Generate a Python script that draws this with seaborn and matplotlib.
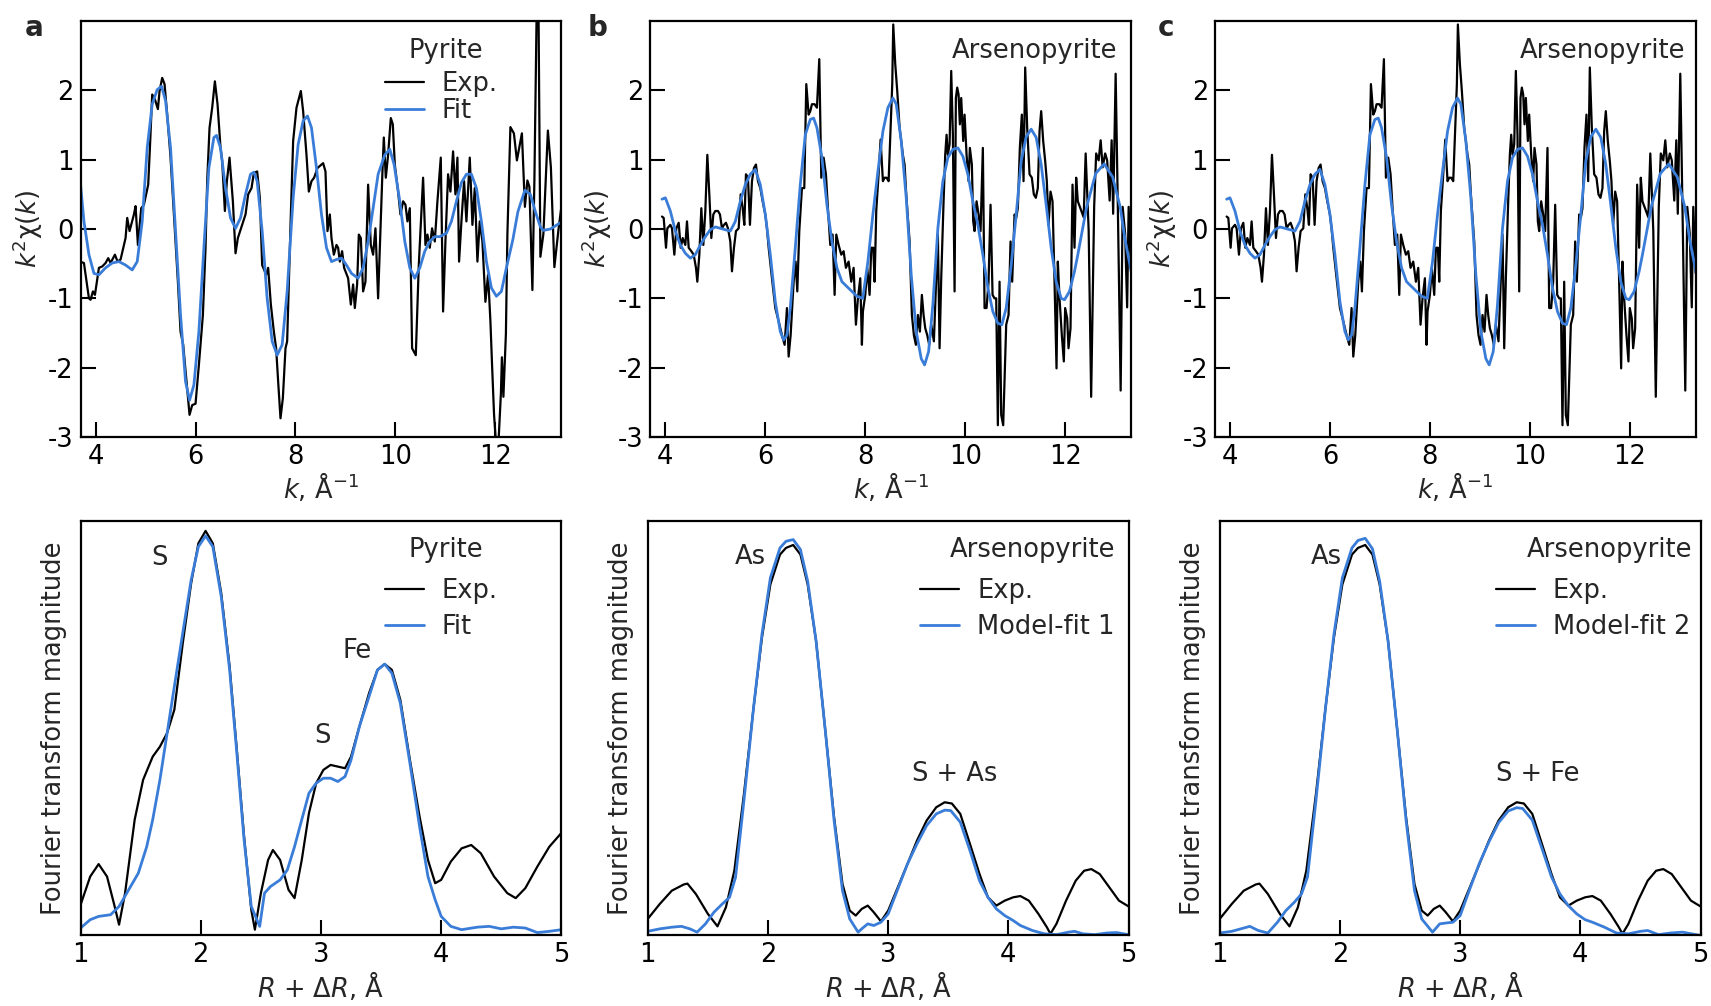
import matplotlib
matplotlib.use("Agg")
import matplotlib.pyplot as plt
import seaborn as sns

# ---- k-space data, panel a (pyrite) ----
k_a_exp = [3.68, 3.767, 3.867, 3.90, 3.947, 3.987, 4.067, 4.133, 4.20, 4.253, 4.30, 4.387, 4.44, 4.50,
           4.567, 4.60, 4.633, 4.68, 4.767, 4.80, 4.847, 4.913, 4.967, 5.053, 5.087, 5.133, 5.187, 5.247,
           5.28, 5.333, 5.38, 5.433, 5.50, 5.567, 5.647, 5.70, 5.753, 5.82, 5.88, 5.933, 6.00, 6.067,
           6.147, 6.20, 6.233, 6.28, 6.333, 6.387, 6.44, 6.50, 6.533, 6.587, 6.627, 6.68, 6.747, 6.80,
           6.847, 6.933, 7.00, 7.053, 7.12, 7.167, 7.233, 7.287, 7.333, 7.413, 7.453, 7.507, 7.567,
           7.613, 7.653, 7.70, 7.747, 7.80, 7.833, 7.907, 7.953, 8.02, 8.107, 8.153, 8.22, 8.267, 8.32,
           8.373, 8.44, 8.553, 8.60, 8.64, 8.687, 8.72, 8.767, 8.82, 8.853, 8.887, 8.933, 8.973, 9.053,
           9.107, 9.153, 9.187, 9.233, 9.267, 9.307, 9.353, 9.40, 9.453, 9.507, 9.553, 9.60, 9.653,
           9.687, 9.74, 9.767, 9.807, 9.853, 9.907, 9.947, 9.987, 10.053, 10.10, 10.153, 10.20, 10.24,
           10.287, 10.333, 10.407, 10.467, 10.553, 10.60, 10.64, 10.687, 10.733, 10.787, 10.84, 10.907,
           10.953, 11.00, 11.053, 11.10, 11.153, 11.20, 11.24, 11.273, 11.32, 11.373, 11.42, 11.487,
           11.54, 11.587, 11.64, 11.687, 11.74, 11.80, 11.853, 11.90, 11.933, 11.973, 12.02, 12.06,
           12.11, 12.13, 12.16, 12.21, 12.24, 12.30, 12.37, 12.43, 12.53, 12.59, 12.64, 12.68, 12.74,
           12.78, 12.83, 12.86, 12.90, 12.96, 13.05, 13.11, 13.18, 13.26, 13.32]
chi_a_exp = [-0.47, -0.49, -1.00, -1.02, -0.90, -0.95, -0.56, -0.54, -0.49, -0.42, -0.49, -0.37, -0.47, -0.44,
             -0.23, -0.13, 0.16, -0.03, 0.21, 0.33, -0.23, 0.30, 0.35, 0.64, 1.17, 1.94, 1.87, 1.73,
             1.99, 2.18, 2.09, 1.65, 1.03, 0.21, -0.76, -1.48, -1.67, -2.20, -2.68, -2.54, -2.52, -1.96,
             -1.24, -0.27, 0.69, 1.46, 1.75, 2.13, 1.80, 1.17, 0.98, 0.26, 0.69, 1.03, 0.40, -0.35,
             -0.13, 0.06, 0.21, 0.50, 0.59, 0.81, 0.83, 0.45, -0.52, -0.66, -0.56, -1.09, -1.48,
             -1.72, -2.20, -2.73, -2.44, -1.72, -1.62, 0.21, 1.27, 1.75, 1.99, 1.70, 1.07, 0.54, 0.69,
             0.74, 0.88, 0.95, 0.83, -0.03, 0.21, -0.13, -0.37, -0.23, -0.27, -0.47, -0.32, -0.56, -0.71,
             -1.09, -0.80, -1.14, -0.80, -0.08, -0.13, -0.90, -0.76, 0.64, -0.23, -0.37, 0.01, -1.00,
             -0.27, 0.83, 1.32, 0.74, 1.07, 1.60, 1.51, 0.93, 0.54, 0.21, 0.40, 0.35, 0.11,
             0.30, -1.72, -1.82, -0.52, 0.74, -0.23, -0.08, -0.27, 0.01, -0.18, 0.40, 1.03,
             -1.19, -0.18, 0.79, 0.54, 1.12, 0.50, 1.03, -0.47, 0.11, 0.69, 0.11, 1.03,
             0.06, 0.59, -0.47, 0.11, -0.18, -1.05, -0.66, -1.33, -1.96, -2.68, -3.17, -3.10,
             -2.37, -1.85, -2.42, -1.51, -0.07, 1.47, 1.38, 0.99, 1.38, 0.32, 0.70, 0.61, -0.88,
             0.70, 3.40, 3.40, -0.40, -0.07, 1.42, 0.89, -0.55, -0.02, 0.32]

k_a_fit = [3.68, 3.767, 3.867, 3.967, 4.067, 4.20, 4.333, 4.467, 4.60, 4.733, 4.833, 4.933, 5.033, 5.133,
           5.233, 5.32, 5.40, 5.50, 5.60, 5.70, 5.80, 5.88, 5.967, 6.067, 6.167, 6.267, 6.367, 6.42,
           6.50, 6.60, 6.70, 6.80, 6.90, 7.00, 7.10, 7.167, 7.233, 7.333, 7.433, 7.533, 7.633, 7.733,
           7.833, 7.953, 8.053, 8.153, 8.24, 8.32, 8.42, 8.52, 8.62, 8.72, 8.82, 8.92, 9.02, 9.12,
           9.253, 9.353, 9.453, 9.553, 9.653, 9.787, 9.887, 9.973, 10.087, 10.187, 10.287, 10.387,
           10.487, 10.587, 10.687, 10.787, 10.887, 11.02, 11.12, 11.22, 11.32, 11.42, 11.52, 11.62,
           11.72, 11.82, 11.92, 12.02, 12.12, 12.22, 12.35, 12.45, 12.59, 12.70, 12.80, 12.90, 12.96,
           13.10, 13.32]
chi_a_fit = [0.79, 0.11, -0.37, -0.64, -0.66, -0.56, -0.49, -0.47, -0.52, -0.59, -0.47, 0.11, 1.17, 1.80,
             2.01, 2.06, 1.85, 1.17, -0.03, -1.24, -2.20, -2.47, -2.25, -1.48, -0.27, 0.88, 1.32, 1.35,
             1.17, 0.59, 0.16, 0.01, 0.16, 0.50, 0.79, 0.82, 0.69, -0.03, -1.00, -1.62, -1.82, -1.67,
             -0.90, 0.45, 1.22, 1.56, 1.63, 1.46, 0.88, 0.21, -0.27, -0.47, -0.44, -0.42, -0.52, -0.64,
             -0.71, -0.56, -0.18, 0.30, 0.79, 1.07, 1.15, 0.93, 0.40, -0.18, -0.56, -0.71,
             -0.56, -0.32, -0.18, -0.11, -0.11, -0.06, 0.11, 0.40, 0.67, 0.79, 0.79, 0.59,
             0.11, -0.47, -0.85, -0.97, -0.90, -0.56, -0.15, 0.25, 0.56, 0.50, 0.25, 0.03, -0.02,
             0.00, 0.10]

# ---- k-space data, panels b and c (arsenopyrite) ----
k_b_exp = [3.933, 3.967, 4.013, 4.04, 4.10, 4.133, 4.18, 4.22, 4.267, 4.307, 4.347, 4.40, 4.433, 4.467,
           4.52, 4.567, 4.613, 4.64, 4.68, 4.72, 4.76, 4.80, 4.84, 4.88, 4.92, 4.96, 5.00, 5.053, 5.093,
           5.133, 5.173, 5.213, 5.253, 5.30, 5.333, 5.373, 5.413, 5.467, 5.507, 5.547, 5.58, 5.613,
           5.653, 5.693, 5.733, 5.773, 5.813, 5.853, 5.90, 5.947, 6.00, 6.033, 6.067, 6.133, 6.20,
           6.267, 6.333, 6.387, 6.433, 6.467, 6.507, 6.567, 6.607, 6.64, 6.68, 6.733, 6.78, 6.82,
           6.867, 6.90, 6.933, 6.987, 7.033, 7.08, 7.12, 7.167, 7.213, 7.253, 7.30, 7.347, 7.387,
           7.42, 7.467, 7.52, 7.567, 7.613, 7.667, 7.72, 7.767, 7.813, 7.853, 7.90, 7.933, 7.953,
           8.00, 8.04, 8.087, 8.12, 8.16, 8.187, 8.22, 8.267, 8.307, 8.353, 8.387, 8.427, 8.467,
           8.50, 8.54, 8.56, 8.60, 8.64, 8.687, 8.753, 8.787, 8.82, 8.887, 8.933, 8.973, 9.013,
           9.053, 9.093, 9.133, 9.167, 9.20, 9.24, 9.28, 9.32, 9.373, 9.413, 9.453, 9.487, 9.52,
           9.567, 9.60, 9.627, 9.653, 9.687, 9.72, 9.753, 9.787, 9.813, 9.84, 9.867, 9.893, 9.92,
           9.96, 9.987, 10.027, 10.067, 10.093, 10.133, 10.16, 10.187, 10.227, 10.267, 10.307,
           10.353, 10.387, 10.427, 10.467, 10.507, 10.547, 10.587, 10.62, 10.653, 10.687, 10.72,
           10.76, 10.787, 10.82, 10.867, 10.907, 10.94, 10.987, 11.02, 11.053, 11.093, 11.133,
           11.167, 11.20, 11.24, 11.287, 11.333, 11.373, 11.413, 11.453, 11.487, 11.52, 11.56,
           11.60, 11.633, 11.667, 11.707, 11.747, 11.787, 11.827, 11.853, 11.887, 11.933, 11.973,
           12.00, 12.04, 12.067, 12.107, 12.147, 12.187, 12.22, 12.253, 12.37, 12.41, 12.47, 12.52,
           12.58, 12.62, 12.67, 12.71, 12.75, 12.80, 12.84, 12.89, 12.93, 12.96, 13.01, 13.06,
           13.11, 13.15, 13.20, 13.24, 13.27, 13.32]
chi_b_exp = [0.18, 0.16, -0.27, 0.01, 0.06, 0.01, -0.37, 0.01, 0.09, -0.27, -0.13, -0.23, 0.11, -0.27,
             -0.32, -0.37, -0.56, -0.76, -0.37, 0.30, -0.23, 0.26, 1.07, 0.50, -0.13, 0.21, 0.26, 0.26, 0.21,
             0.01, 0.06, 0.09, 0.01, -0.18, -0.61, -0.27, -0.03, 0.01, 0.50, 0.30, 0.06, 0.79,
             0.74, 0.06, 0.69, 0.88, 0.93, 0.69, 0.59, 0.40, 0.21, 0.01, -0.27, -0.71, -1.14,
             -1.33, -1.53, -1.67, -1.14, -1.84, -1.53, -0.76, -0.47, -0.90, -0.03, 0.59, 0.59, 2.09,
             1.65, 1.70, 1.80, 1.80, 1.75, 2.45, 0.74, 1.03, 0.79, 0.30, -0.23, -0.08, -0.95,
             -0.08, -0.23, -0.37, -0.32, -0.56, -0.47, -0.76, -0.56, -1.38, -1.00, -0.71, -1.67, -1.19,
             -0.95, -0.56, -0.95, -0.27, -0.27, -0.76, 0.26, 0.79, 1.29, 0.69, 0.74, 0.74, 0.69,
             1.32, 2.09, 2.95, 2.38, 1.99, 1.46, 1.07, 0.93, 0.50, -0.18, -1.24, -1.53, -1.67,
             -1.24, -1.48, -0.95, -1.24, -1.43, -1.53, -1.67, -1.38, -1.62, -0.85, -0.08, -1.72, -0.71,
             0.40, 1.07, 1.36, 1.07, 1.22, 2.28, 1.36, -0.90, 1.89, 2.04, 1.94, 1.51, 1.89,
             1.27, 1.65, 1.07, 0.69, 1.17, 0.93, 0.11, -0.03, 0.40, 0.21, -0.03,
             1.17, -1.14, -1.14, -0.76, 0.35, -0.95, -1.00, -1.00, -2.83, -0.76, -2.68,
             -2.83, -2.20, -1.38, -1.24, -0.18, -0.76, 0.21, 0.16, 0.30, 1.17, 1.65,
             0.69, 2.33, 1.46, 0.79, 0.74, 0.50, 0.45, 0.59, 1.41, 1.70, 1.27,
             0.98, 0.69, 0.06, 0.54, 0.40, -0.76, -2.01, -0.47, -1.00, -1.53, -1.91,
             -1.14, -1.29, -1.72, -1.43, 0.64, -0.27, 0.74, 0.40, 0.17, 1.09, -0.02, -2.42,
             0.32, 1.09, 0.99, 1.28, 0.89, 1.09, 0.99, 0.41, 1.28, 0.22, 2.24, 0.03,
             -2.33, 0.32, -0.07, -1.13, 0.32, -0.64]

k_b_fit = [3.933, 4.00, 4.10, 4.20, 4.30, 4.40, 4.50, 4.60, 4.70, 4.80, 4.90, 5.00, 5.10, 5.20, 5.30,
           5.40, 5.50, 5.60, 5.70, 5.80, 5.90, 6.00, 6.10, 6.20, 6.30, 6.367, 6.433, 6.50, 6.60, 6.70,
           6.80, 6.90, 6.967, 7.033, 7.133, 7.233, 7.333, 7.433, 7.533, 7.633, 7.733, 7.833, 7.95,
           8.053, 8.153, 8.253, 8.353, 8.453, 8.553, 8.62, 8.72, 8.82, 8.92, 9.02, 9.12, 9.187, 9.267,
           9.353, 9.453, 9.553, 9.653, 9.753, 9.853, 9.953, 10.053, 10.153, 10.253, 10.353, 10.453,
           10.553, 10.653, 10.733, 10.82, 10.92, 11.02, 11.12, 11.22, 11.32, 11.42, 11.52, 11.62,
           11.72, 11.82, 11.92, 11.987, 12.087, 12.187, 12.253, 12.43, 12.61, 12.78, 12.95, 13.10,
           13.20, 13.33]
chi_b_fit = [0.43, 0.45, 0.26, -0.03, -0.23, -0.35, -0.42, -0.37, -0.23, -0.11, -0.01, 0.03, 0.01, -0.01, -0.03,
             0.11, 0.40, 0.64, 0.79, 0.86, 0.64, 0.21, -0.37, -1.05, -1.48, -1.60, -1.53, -1.14, -0.27, 0.64,
             1.36, 1.58, 1.60, 1.46, 1.03, 0.35, -0.18, -0.56, -0.76, -0.83, -0.90, -0.97, -1.00,
             -0.47, 0.21, 0.83, 1.41, 1.75, 1.89, 1.80, 1.27, 0.45, -0.66, -1.48, -1.87, -1.96, -1.77,
             -1.09, 0.01, 0.69, 1.03, 1.15, 1.17, 1.05, 0.79, 0.40, 0.06, -0.37, -0.85,
             -1.19, -1.36, -1.38, -1.14, -0.52, 0.21, 0.98, 1.33, 1.44, 1.32, 0.93, 0.35,
             -0.27, -0.76, -1.00, -1.02, -0.90, -0.61, -0.37, 0.32, 0.80, 0.94, 0.75, 0.32,
             -0.16, -0.64]

# ---- R-space data (normalised magnitude) ----
r_a_exp = [1.00, 1.08, 1.15, 1.22, 1.28, 1.32, 1.37, 1.45, 1.52, 1.60, 1.66, 1.72, 1.78, 1.85, 1.92,
           1.98, 2.04, 2.10, 2.17, 2.24, 2.30, 2.36, 2.42, 2.45, 2.50, 2.56, 2.60, 2.66, 2.73, 2.78,
           2.84, 2.90, 2.96, 3.02, 3.08, 3.14, 3.20, 3.25, 3.32, 3.40, 3.47, 3.53, 3.59, 3.66, 3.74,
           3.82, 3.89, 3.95, 4.00, 4.08, 4.17, 4.25, 4.33, 4.44, 4.55, 4.62, 4.70, 4.80, 4.90, 5.00]
ft_a_exp = [0.074, 0.142, 0.172, 0.142, 0.074, 0.026, 0.102, 0.279, 0.375, 0.431, 0.455, 0.488, 0.544, 0.704,
            0.849, 0.945, 0.975, 0.945, 0.825, 0.648, 0.447, 0.239, 0.062, 0.014, 0.102, 0.182, 0.206,
            0.182, 0.110, 0.090, 0.182, 0.295, 0.367, 0.399, 0.411, 0.407, 0.403, 0.431, 0.504, 0.584,
            0.640, 0.654, 0.640, 0.568, 0.423, 0.287, 0.182, 0.126, 0.134, 0.178, 0.210, 0.218, 0.198,
            0.142, 0.102, 0.090, 0.114, 0.166, 0.214, 0.247]
r_a_fit = [1.00, 1.08, 1.15, 1.25, 1.32, 1.40, 1.48, 1.55, 1.60, 1.66, 1.72, 1.78, 1.85, 1.92, 1.98,
           2.04, 2.10, 2.17, 2.24, 2.30, 2.36, 2.42, 2.49, 2.53, 2.58, 2.66, 2.72, 2.78, 2.84, 2.90,
           2.96, 3.02, 3.08, 3.14, 3.20, 3.25, 3.32, 3.40, 3.47, 3.53, 3.59, 3.66, 3.74, 3.82, 3.89,
           3.95, 4.00, 4.08, 4.17, 4.30, 4.40, 4.50, 4.60, 4.70, 4.80, 4.90, 5.00]
ft_a_fit = [0.018, 0.038, 0.046, 0.050, 0.070, 0.110, 0.150, 0.214, 0.279, 0.375, 0.488, 0.600, 0.729,
            0.857, 0.937, 0.963, 0.937, 0.817, 0.640, 0.439, 0.231, 0.070, 0.022, 0.102, 0.118, 0.134,
            0.158, 0.214, 0.279, 0.343, 0.367, 0.379, 0.379, 0.371, 0.383, 0.423, 0.504, 0.576, 0.640,
            0.654, 0.632, 0.560, 0.415, 0.263, 0.142, 0.086, 0.046, 0.022, 0.014, 0.020, 0.022, 0.016,
            0.020, 0.018, 0.007, 0.010, 0.014]

r_b_exp = [1.00, 1.10, 1.20, 1.30, 1.33, 1.40, 1.50, 1.58, 1.65, 1.72, 1.80, 1.88, 1.95, 2.02, 2.10,
           2.15, 2.21, 2.27, 2.33, 2.40, 2.48, 2.55, 2.62, 2.68, 2.73, 2.78, 2.83, 2.88, 2.94, 3.00,
           3.08, 3.16, 3.24, 3.32, 3.40, 3.47, 3.53, 3.60, 3.68, 3.76, 3.83, 3.90, 3.97, 4.04, 4.10,
           4.17, 4.25, 4.32, 4.35, 4.40, 4.48, 4.56, 4.63, 4.69, 4.76, 4.84, 4.92, 5.00]
ft_b_exp = [0.040, 0.076, 0.108, 0.123, 0.125, 0.100, 0.052, 0.022, 0.068, 0.156, 0.341, 0.549, 0.718,
            0.846, 0.918, 0.934, 0.941, 0.918, 0.846, 0.710, 0.485, 0.285, 0.124, 0.060, 0.048, 0.064,
            0.072, 0.056, 0.034, 0.060, 0.116, 0.172, 0.229, 0.277, 0.309, 0.321, 0.318, 0.293, 0.221,
            0.148, 0.092, 0.072, 0.084, 0.092, 0.095, 0.084, 0.052, 0.020, 0.004, 0.028, 0.084, 0.132,
            0.156, 0.160, 0.148, 0.116, 0.084, 0.070]
r_b_fit = [1.00, 1.10, 1.20, 1.28, 1.35, 1.41, 1.48, 1.55, 1.62, 1.68, 1.73, 1.80, 1.88, 1.95, 2.02,
           2.10, 2.15, 2.21, 2.27, 2.33, 2.40, 2.48, 2.55, 2.62, 2.68, 2.75, 2.78, 2.83, 2.88, 2.94,
           3.00, 3.08, 3.16, 3.24, 3.32, 3.40, 3.47, 3.52, 3.60, 3.68, 3.76, 3.83, 3.90, 3.97, 4.04,
           4.10, 4.20, 4.30, 4.40, 4.50, 4.55, 4.62, 4.72, 4.82, 4.90, 5.00]
ft_b_fit = [0.010, 0.016, 0.020, 0.022, 0.016, 0.008, 0.028, 0.056, 0.076, 0.092, 0.140, 0.325, 0.549,
            0.726, 0.862, 0.934, 0.950, 0.954, 0.930, 0.854, 0.710, 0.485, 0.277, 0.108, 0.040, 0.008,
            0.016, 0.028, 0.024, 0.032, 0.052, 0.112, 0.172, 0.221, 0.265, 0.293, 0.302, 0.301, 0.273,
            0.205, 0.132, 0.092, 0.064, 0.048, 0.036, 0.024, 0.012, 0.004, 0.002, 0.008, 0.010, 0.004,
            0.002, 0.006, 0.007, 0.002]
r_c_fit = [1.00, 1.10, 1.20, 1.25, 1.32, 1.40, 1.48, 1.55, 1.62, 1.68, 1.73, 1.80, 1.88, 1.95, 2.02,
           2.10, 2.15, 2.21, 2.27, 2.33, 2.40, 2.48, 2.55, 2.62, 2.68, 2.77, 2.83, 2.88, 2.94, 3.00,
           3.08, 3.16, 3.24, 3.32, 3.40, 3.47, 3.52, 3.60, 3.68, 3.76, 3.83, 3.90, 3.97, 4.04, 4.10,
           4.20, 4.30, 4.40, 4.50, 4.56, 4.65, 4.75, 4.85, 5.00]
ft_c_fit = [0.006, 0.010, 0.018, 0.022, 0.012, 0.006, 0.032, 0.060, 0.080, 0.100, 0.141, 0.325, 0.549,
            0.726, 0.862, 0.934, 0.952, 0.957, 0.932, 0.854, 0.710, 0.485, 0.277, 0.108, 0.040, 0.008,
            0.028, 0.030, 0.032, 0.048, 0.112, 0.174, 0.226, 0.272, 0.300, 0.308, 0.306, 0.278, 0.210,
            0.141, 0.100, 0.072, 0.052, 0.038, 0.032, 0.020, 0.006, 0.004, 0.010, 0.012, 0.002, 0.006,
            0.008, 0.000]

k_ticks = [4, 6, 8, 10, 12]
chi_ticks = [-3, -2, -1, 0, 1, 2]
r_ticks = [1, 2, 3, 4, 5]
panel_letters = ["a", "b", "c"]
top_names = ["Pyrite", "Arsenopyrite", "Arsenopyrite"]
fit_labels = ["Fit", "Model-fit 1", "Model-fit 2"]
peak_labels = [
    [("S", 1.66, 0.91), ("Fe", 3.30, 0.685), ("S", 3.016, 0.48)],
    [("As", 1.854, 0.912), ("S + As", 3.556, 0.39)],
    [("As", 1.886, 0.912), ("S + Fe", 3.647, 0.39)],
]

BLUE = "#3a7dd8"
FS = 18.5

sns.set_theme(style="ticks")
plt.rcParams["font.family"] = ["DejaVu Sans"]
plt.rcParams["mathtext.fontset"] = "dejavusans"
plt.rcParams["axes.unicode_minus"] = False
plt.rcParams["axes.linewidth"] = 1.6
plt.rcParams["axes.edgecolor"] = "black"

fig = plt.figure(figsize=(17.11, 10.06), dpi=100)

top_lefts = [0.0471, 0.3801, 0.7101]
bot_lefts = [0.0471, 0.3786, 0.7129]
W = 0.281


def style_axes(ax):
    ax.tick_params(direction="in", length=11, width=1.5, labelsize=FS, pad=5,
                   top=False, right=False, colors="black")
    for s in ax.spines.values():
        s.set_color("black")
        s.set_linewidth(1.6)


top_data = [
    (k_a_exp, chi_a_exp, k_a_fit, chi_a_fit),
    (k_b_exp, chi_b_exp, k_b_fit, chi_b_fit),
    (k_b_exp, chi_b_exp, k_b_fit, chi_b_fit),
]
bot_data = [
    (r_a_exp, ft_a_exp, r_a_fit, ft_a_fit),
    (r_b_exp, ft_b_exp, r_b_fit, ft_b_fit),
    (r_b_exp, ft_b_exp, r_c_fit, ft_c_fit),
]
name_pos_top = [(0.760, "center"), (0.971, "right"), (0.979, "right")]
name_pos_bot = [(0.760, "center"), (0.973, "right"), (0.983, "right")]
leg_x = [0.633, 0.567, 0.574]
leg_kw = dict(loc="center left", frameon=False, fontsize=FS, handlelength=1.52,
              handletextpad=0.69, borderpad=0, borderaxespad=0)

for i in range(3):
    # k-space
    ax = fig.add_axes([top_lefts[i], 0.5656, W, 0.4135])
    ke, ce, kf, cf = top_data[i]
    if i == 0:
        sns.lineplot(x=ke, y=ce, ax=ax, color="black", linewidth=1.6, estimator=None, sort=False, label="Exp.")
        sns.lineplot(x=kf, y=cf, ax=ax, color=BLUE, linewidth=2.0, estimator=None, sort=False, label="Fit")
        ax.legend(bbox_to_anchor=(leg_x[0], 0.8166), labelspacing=0.05, **leg_kw)
    else:
        sns.lineplot(x=ke, y=ce, ax=ax, color="black", linewidth=1.6, estimator=None, sort=False)
        sns.lineplot(x=kf, y=cf, ax=ax, color=BLUE, linewidth=2.0, estimator=None, sort=False)
    ax.set_xlim(3.7, 13.32)
    ax.set_ylim(-3, 3)
    ax.set_xticks(k_ticks)
    ax.set_yticks(chi_ticks)
    ax.set_xlabel(r"$k$, Å$^{-1}$", fontsize=FS, labelpad=1)
    ax.set_ylabel(r"$k^2$χ($k$)", fontsize=FS)
    ax.yaxis.set_label_coords(-0.075, 0.5)
    style_axes(ax)
    x, ha = name_pos_top[i]
    ax.text(x, 0.912, top_names[i], transform=ax.transAxes, ha=ha, va="baseline", fontsize=FS)
    fig.text([0.0146, 0.3437, 0.6768][i], 0.964, panel_letters[i], fontsize=20, fontweight="bold",
             ha="left", va="baseline")

    # R-space
    ax = fig.add_axes([bot_lefts[i], 0.0701, W, 0.4125])
    re_, fe, rf, ff = bot_data[i]
    sns.lineplot(x=re_, y=fe, ax=ax, color="black", linewidth=1.6, estimator=None, sort=False, label="Exp.")
    sns.lineplot(x=rf, y=ff, ax=ax, color=BLUE, linewidth=2.0, estimator=None, sort=False, label=fit_labels[i])
    ax.legend(bbox_to_anchor=(leg_x[i], 0.787), labelspacing=0.37, **leg_kw)
    ax.set_xlim(1, 5)
    ax.set_ylim(0, 1)
    ax.set_xticks(r_ticks)
    ax.set_yticks([])
    ax.set_xlabel(r"$R$ + Δ$R$, Å", fontsize=FS, labelpad=1)
    ax.set_ylabel("Fourier transform magnitude", fontsize=FS, labelpad=10)
    style_axes(ax)
    x, ha = name_pos_bot[i]
    ax.text(x, 0.911, top_names[i], transform=ax.transAxes, ha=ha, va="baseline", fontsize=FS)
    for txt, px, py in peak_labels[i]:
        ax.text(px, py, txt, ha="center", va="center", fontsize=FS)

fig.savefig("out.png", dpi=100)
